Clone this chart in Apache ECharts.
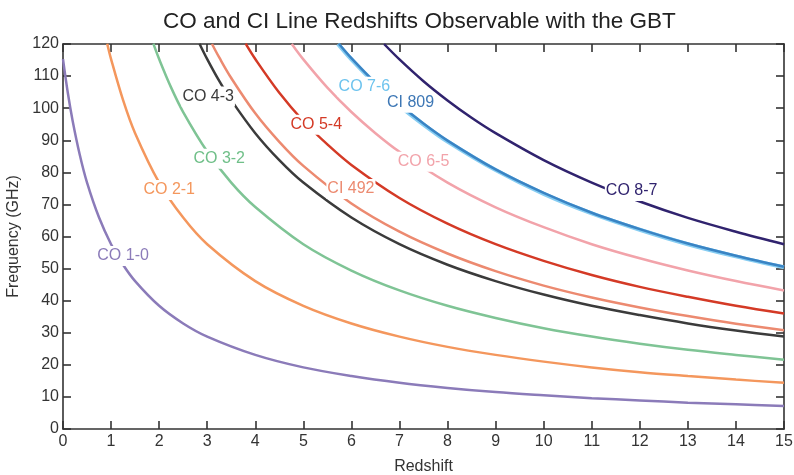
<!DOCTYPE html>
<html>
<head>
<meta charset="utf-8">
<script src="https://cdn.jsdelivr.net/npm/echarts@6/dist/echarts.min.js"></script>
<style>html,body{margin:0;padding:0;background:#fff;}#c{width:794px;height:475px;}</style>
</head>
<body>
<div id="c"></div>
<script>
// [redshift, frequency GHz]
const co10 = [[0,115.3],[0.1,104.8],[0.2,96.1],[0.35,85.4],[0.5,76.8],[0.75,65.9],[1,57.6],[1.25,51.2],[1.5,46.1],[2,38.4],[2.5,32.9],[3,28.8],[4,23.1],[5,19.2],[6,16.5],[7,14.4],[8,12.8],[9,11.5],[10,10.5],[11,9.6],[12,8.9],[13,8.2],[14,7.7],[15,7.2]];
const co21 = [[0.92,120.1],[1,115.3],[1.25,102.5],[1.5,92.2],[2,76.8],[2.5,65.9],[3,57.6],[4,46.1],[5,38.4],[6,32.9],[7,28.8],[8,25.6],[9,23.1],[10,21.0],[11,19.2],[12,17.7],[13,16.5],[14,15.4],[15,14.4]];
const co32 = [[1.88,120.1],[2,115.3],[2.25,106.4],[2.5,98.8],[3,86.5],[3.5,76.8],[4,69.2],[5,57.6],[6,49.4],[7,43.2],[8,38.4],[9,34.6],[10,31.4],[11,28.8],[12,26.6],[13,24.7],[14,23.1],[15,21.6]];
const co43 = [[2.84,120.1],[3,115.3],[3.25,108.5],[3.5,102.5],[4,92.2],[4.5,83.8],[5,76.8],[6,65.9],[7,57.6],[8,51.2],[9,46.1],[10,41.9],[11,38.4],[12,35.5],[13,32.9],[14,30.7],[15,28.8]];
const ci492 = [[3.1,120.0],[3.25,115.8],[3.5,109.4],[4,98.4],[4.5,89.5],[5,82.0],[6,70.3],[7,61.5],[8,54.7],[9,49.2],[10,44.7],[11,41.0],[12,37.9],[13,35.2],[14,32.8],[15,30.8]];
const co54 = [[3.8,120.1],[4,115.3],[4.5,104.8],[5,96.0],[5.5,88.7],[6,82.3],[7,72.0],[8,64.0],[9,57.6],[10,52.4],[11,48.0],[12,44.3],[13,41.2],[14,38.4],[15,36.0]];
const co65 = [[4.76,120.0],[5,115.2],[5.5,106.4],[6,98.8],[6.5,92.2],[7,86.4],[8,76.8],[9,69.1],[10,62.9],[11,57.6],[12,53.2],[13,49.4],[14,46.1],[15,43.2]];
const co76 = [[5.72,120.0],[6,115.2],[6.5,107.6],[7,100.8],[7.5,94.9],[8,89.6],[9,80.7],[10,73.3],[11,67.2],[12,62.1],[13,57.6],[14,53.8],[15,50.4]];
const ci809 = [[5.74,120.1],[6,115.6],[6.5,107.9],[7,101.2],[7.5,95.2],[8,89.9],[9,80.9],[10,73.6],[11,67.4],[12,62.3],[13,57.8],[14,54.0],[15,50.6]];
const co87 = [[6.68,120.0],[7,115.2],[7.5,108.4],[8,102.4],[8.5,97.0],[9,92.2],[10,83.8],[11,76.8],[12,70.9],[13,65.8],[14,61.5],[15,57.6]];

const lineNames = ['CO 1-0','CO 2-1','CO 3-2','CO 4-3','CI 492','CO 5-4','CO 6-5','CO 7-6','CI 809','CO 8-7'];
const lineData = [co10, co21, co32, co43, ci492, co54, co65, co76, ci809, co87];
// label anchor points [redshift, frequency]
const labelPoints = [[1.25,53.9],[2.21,74.5],[3.25,84.2],[3.02,103.6],[5.99,74.8],[5.27,94.8],[7.5,83.3],[6.27,106.7],[7.23,101.7],[11.83,74.2]];

const lineColors = ['#8b7bb9','#f4975d','#7fc495','#3b3b3b','#ec8a70','#d43a26','#f2a3aa','#86cdf2','#3a84c4','#30236e'];
const labelColors = ['#8b7bb9','#f4975d','#6fbf88','#3b3b3b','#ec8a70','#d43a26','#f2a3aa','#6cc3ee','#3d77b5','#30236e'];
const lineWidths = [2.5,2.5,2.5,2.5,2.5,2.5,2.5,4,2.5,2.5];

const FONT = '"Liberation Sans", Arial, Helvetica, sans-serif';
const axisLineStyle = {color:'#333', width:1.6};

const series = lineData.map((d,i)=>({
  type:'line', name:lineNames[i], data:d, smooth:0.35, symbol:'none', clip:true,
  lineStyle:{color:lineColors[i], width:lineWidths[i]}, z: (i===7?2:3), silent:true
}));
series.push({
  type:'scatter', z:10, silent:true, symbolSize:1, itemStyle:{color:'#fff', opacity:1},
  data: labelPoints.map((p,i)=>({value:p, name:lineNames[i],
    label:{show:true, position:'inside', formatter:lineNames[i], color:labelColors[i], opacity:1,
      fontSize:16, fontFamily:FONT, backgroundColor:'#fff', padding:[2,1]}}))
});

const chart = echarts.init(document.getElementById('c'));
chart.setOption({
  animation:false,
  backgroundColor:'#fff',
  title:{text:'CO and CI Line Redshifts Observable with the GBT', left:163, top:10, padding:0,
    textStyle:{fontSize:22.5, fontWeight:'normal', color:'#222', fontFamily:FONT}},
  grid:{left:63, right:10, top:44, bottom:46, outerBoundsMode:'none', containLabel:false},
  xAxis:[
    {type:'value', min:0, max:15, interval:1, position:'bottom',
     name:'Redshift', nameLocation:'middle', nameGap:30,
     nameTextStyle:{fontSize:16, color:'#333', fontFamily:FONT},
     axisLine:{show:true, onZero:false, lineStyle:axisLineStyle},
     axisTick:{show:true, inside:true, length:8, lineStyle:axisLineStyle},
     axisLabel:{fontSize:16, color:'#333', margin:5, fontFamily:FONT},
     splitLine:{show:false}},
    {type:'value', min:0, max:15, interval:1, position:'top',
     axisLine:{show:true, onZero:false, lineStyle:axisLineStyle},
     axisTick:{show:true, inside:true, length:8, lineStyle:axisLineStyle},
     axisLabel:{show:false}, splitLine:{show:false}}
  ],
  yAxis:[
    {type:'value', min:0, max:120, interval:10, position:'left',
     name:'Frequency (GHz)', nameLocation:'middle', nameGap:41,
     nameTextStyle:{fontSize:16, color:'#333', fontFamily:FONT},
     axisLine:{show:true, onZero:false, lineStyle:axisLineStyle},
     axisTick:{show:true, inside:true, length:8, lineStyle:axisLineStyle},
     axisLabel:{fontSize:16, color:'#333', margin:4, fontFamily:FONT},
     splitLine:{show:false}},
    {type:'value', min:0, max:120, interval:10, position:'right',
     axisLine:{show:true, onZero:false, lineStyle:axisLineStyle},
     axisTick:{show:true, inside:true, length:8, lineStyle:axisLineStyle},
     axisLabel:{show:false}, splitLine:{show:false}}
  ],
  series: series
});
</script>
</body>
</html>
